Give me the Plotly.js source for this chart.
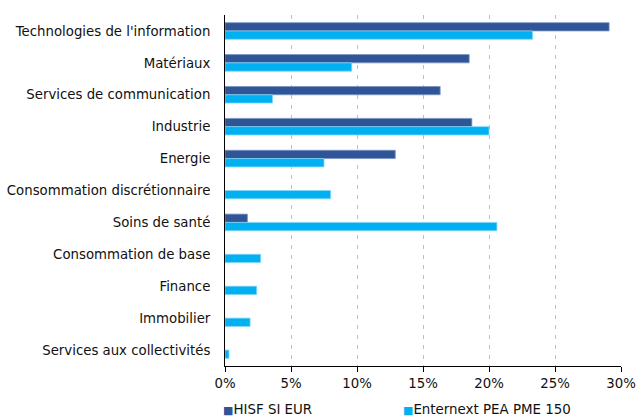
<!DOCTYPE html>
<html>
<head>
<meta charset="utf-8">
<script src="https://cdn.plot.ly/plotly-3.0.1.min.js"></script>
<style>html,body{margin:0;padding:0;background:#fff;}#chart{width:640px;height:419px;}</style>
</head>
<body>
<div id="chart"></div>
<script>
const categories = ["Technologies de l'information", "Matériaux", "Services de communication", "Industrie", "Energie", "Consommation discrétionnaire", "Soins de santé", "Consommation de base", "Finance", "Immobilier", "Services aux collectivités"];
const seriesNames = ["HISF SI EUR", "Enternext PEA PME 150"];
const hisfValues = [29.1, 18.5, 16.3, 18.7, 12.9, null, 1.7, null, null, null, null];
const enternextValues = [23.3, 9.6, 3.6, 20.0, 7.5, 8.0, 20.6, 2.7, 2.4, 1.9, 0.3];
const xTickValues = [0, 5, 10, 15, 20, 25, 30];
const xTickLabels = ["0%", "5%", "10%", "15%", "20%", "25%", "30%"];
const colors = ['#2F5597', '#00B0F0'];

const traces = [
  {type: 'bar', orientation: 'h', name: seriesNames[0], y: categories, x: hisfValues,
   marker: {color: colors[0], line: {color: '#7A96C8', width: 0.8}}, hoverinfo: 'x+y'},
  {type: 'bar', orientation: 'h', name: seriesNames[1], y: categories, x: enternextValues,
   marker: {color: colors[1], line: {color: '#7FD6F7', width: 0.8}}, hoverinfo: 'x+y'}
];

// legend drawn as annotations (colored square + name)
const legendX = [(221 - 225) / 396, (401 - 225) / 396];
const annotations = seriesNames.map((n, i) => ({
  xref: 'paper', yref: 'paper', x: legendX[i], y: -0.125, xanchor: 'left', yanchor: 'middle',
  showarrow: false, align: 'left',
  text: '<span style="color:' + colors[i] + ';font-size:11px">■</span>' + n,
  font: {size: 13.4, color: '#111'}
}));

const layout = {
  width: 640, height: 419,
  margin: {l: 225, r: 19, t: 15, b: 53, autoexpand: false},
  paper_bgcolor: '#fff', plot_bgcolor: '#fff',
  font: {family: 'DejaVu Sans, Verdana, sans-serif', size: 13.3, color: '#111'},
  barmode: 'group', bargap: 0.48, bargroupgap: 0,
  showlegend: false,
  annotations: annotations,
  xaxis: {range: [0, 30], tickvals: xTickValues, ticktext: xTickLabels,
          showgrid: true, gridcolor: '#BFBFBF', griddash: '4px,6px', gridwidth: 1,
          zeroline: false, showline: true, linecolor: '#000', linewidth: 1,
          ticks: 'outside', ticklen: 5, tickcolor: '#000', fixedrange: true},
  yaxis: {autorange: 'reversed', showgrid: false, zeroline: false,
          showline: true, linecolor: '#000', linewidth: 1, ticks: '', ticklabelstandoff: 11, fixedrange: true}
};

Plotly.newPlot('chart', traces, layout, {displayModeBar: false, staticPlot: true});
</script>
</body>
</html>
